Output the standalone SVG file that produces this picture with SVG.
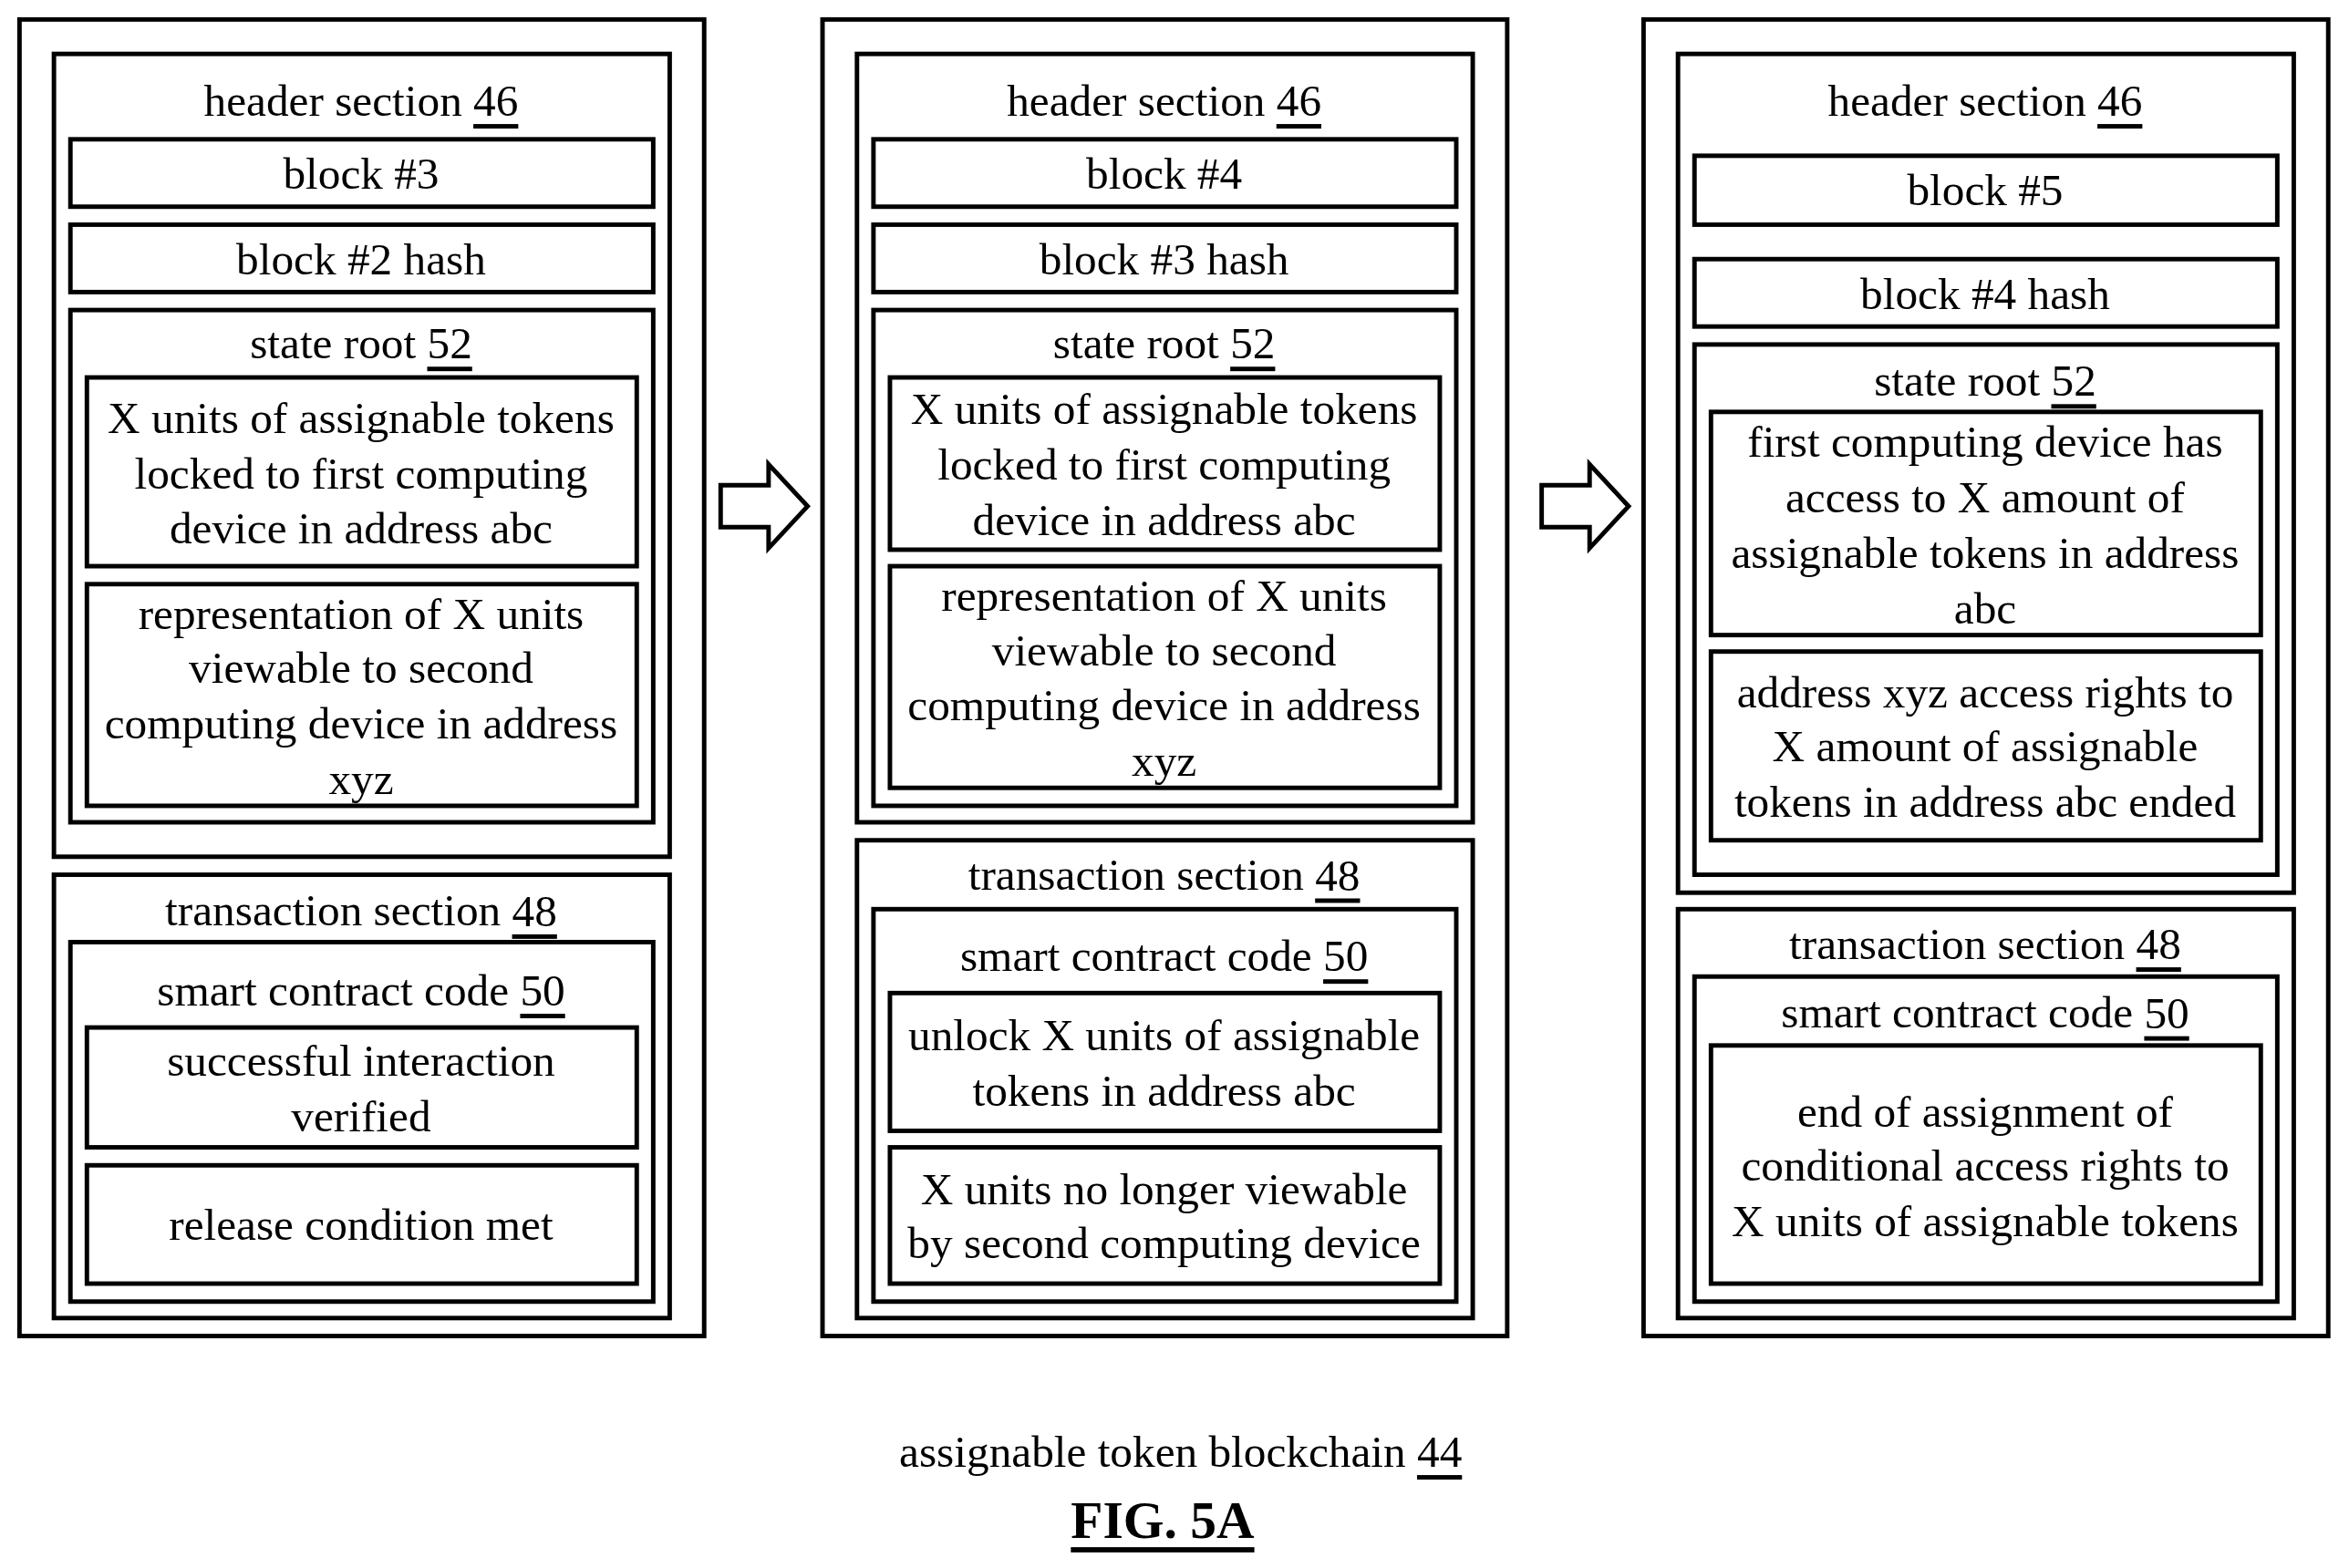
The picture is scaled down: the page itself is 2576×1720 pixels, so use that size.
<svg xmlns="http://www.w3.org/2000/svg" width="2576" height="1720" viewBox="0 0 2576 1720">
<style>
rect{fill:#fff;stroke:#000;stroke-width:3}
text{font-family:"Liberation Serif","Times New Roman",serif;font-size:30px;text-anchor:middle;dominant-baseline:central}
.u{text-decoration:underline}
.arrow{fill:#fff;stroke:#000;stroke-width:3;stroke-linejoin:miter}
</style>
<rect x="0" y="0" width="2576" height="1720" style="fill:#fff;stroke:none"/>
<g transform="scale(1.643)">
<g id="block3">
<rect x="13" y="13" width="457" height="879"/>
<rect x="36" y="36" width="411" height="536"/>
<text x="241" y="67">header section <tspan class="u">46</tspan></text>
<rect x="47" y="93" width="389" height="45"/><text x="241" y="116">block #3</text>
<rect x="47" y="150" width="389" height="45"/><text x="241" y="173">block #2 hash</text>
<rect x="47" y="207" width="389" height="342"/><text x="241" y="229">state root <tspan class="u">52</tspan></text>
<rect x="58" y="252" width="367" height="126"/>
<text x="241" y="279">X units of assignable tokens</text><text x="241" y="316">locked to first computing</text><text x="241" y="353">device in address abc</text>
<rect x="58" y="390" width="367" height="148"/>
<text x="241" y="410">representation of X units</text><text x="241" y="446">viewable to second</text><text x="241" y="483">computing device in address</text><text x="241" y="520">xyz</text>
<rect x="36" y="584" width="411" height="296"/><text x="241" y="608">transaction section <tspan class="u">48</tspan></text>
<rect x="47" y="629" width="389" height="240"/><text x="241" y="661">smart contract code <tspan class="u">50</tspan></text>
<rect x="58" y="686" width="367" height="80"/><text x="241" y="708">successful interaction</text><text x="241" y="745">verified</text>
<rect x="58" y="778" width="367" height="79"/><text x="241" y="818">release condition met</text>
</g>
<g id="block4">
<rect x="549" y="13" width="457" height="879"/>
<rect x="572" y="36" width="411" height="513"/>
<text x="777" y="67">header section <tspan class="u">46</tspan></text>
<rect x="583" y="93" width="389" height="45"/><text x="777" y="116">block #4</text>
<rect x="583" y="150" width="389" height="45"/><text x="777" y="173">block #3 hash</text>
<rect x="583" y="207" width="389" height="331"/><text x="777" y="229">state root <tspan class="u">52</tspan></text>
<rect x="594" y="252" width="367" height="115"/>
<text x="777" y="273">X units of assignable tokens</text><text x="777" y="310">locked to first computing</text><text x="777" y="347">device in address abc</text>
<rect x="594" y="378" width="367" height="148"/>
<text x="777" y="398">representation of X units</text><text x="777" y="434">viewable to second</text><text x="777" y="471">computing device in address</text><text x="777" y="508">xyz</text>
<rect x="572" y="561" width="411" height="319"/><text x="777" y="584">transaction section <tspan class="u">48</tspan></text>
<rect x="583" y="607" width="389" height="262"/><text x="777" y="638">smart contract code <tspan class="u">50</tspan></text>
<rect x="594" y="663" width="367" height="92"/><text x="777" y="691">unlock X units of assignable</text><text x="777" y="728">tokens in address abc</text>
<rect x="594" y="766" width="367" height="91"/><text x="777" y="794">X units no longer viewable</text><text x="777" y="830">by second computing device</text>
</g>
<g id="block5">
<rect x="1097" y="13" width="457" height="879"/>
<rect x="1120" y="36" width="411" height="560"/>
<text x="1325" y="67">header section <tspan class="u">46</tspan></text>
<rect x="1131" y="104" width="389" height="46"/><text x="1325" y="127">block #5</text>
<rect x="1131" y="173" width="389" height="45"/><text x="1325" y="196">block #4 hash</text>
<rect x="1131" y="230" width="389" height="354"/><text x="1325" y="254">state root <tspan class="u">52</tspan></text>
<rect x="1142" y="275" width="367" height="149"/>
<text x="1325" y="295">first computing device has</text><text x="1325" y="332">access to X amount of</text><text x="1325" y="369">assignable tokens in address</text><text x="1325" y="406">abc</text>
<rect x="1142" y="435" width="367" height="126"/>
<text x="1325" y="462">address xyz access rights to</text><text x="1325" y="498">X amount of assignable</text><text x="1325" y="535">tokens in address abc ended</text>
<rect x="1120" y="607" width="411" height="273"/><text x="1325" y="630">transaction section <tspan class="u">48</tspan></text>
<rect x="1131" y="652" width="389" height="217"/><text x="1325" y="676">smart contract code <tspan class="u">50</tspan></text>
<rect x="1142" y="698" width="367" height="159"/>
<text x="1325" y="742">end of assignment of</text><text x="1325" y="778">conditional access rights to</text><text x="1325" y="815">X units of assignable tokens</text>
</g>
<g id="connectors">
<polygon class="arrow" points="481,324 513,324 513,310 539,338 513,366 513,352 481,352"/>
<polygon class="arrow" points="1029,324 1061,324 1061,310 1087,338 1061,366 1061,352 1029,352"/>
</g>
<g id="caption">
<text x="788" y="969">assignable token blockchain <tspan class="u">44</tspan></text>
<text x="776" y="1015" style="font-weight:bold;font-size:35px" class="u">FIG. 5A</text>
</g>
</g>
</svg>
